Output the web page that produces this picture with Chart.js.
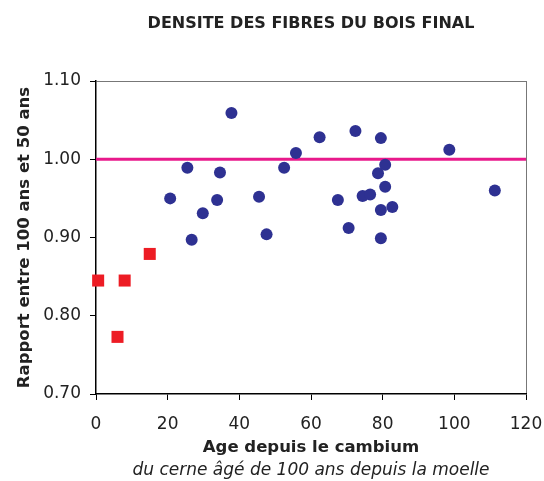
<!DOCTYPE html>
<html>
<head>
<meta charset="utf-8">
<script src="https://cdn.jsdelivr.net/npm/chart.js@4.4.0/dist/chart.umd.min.js"></script>
<style>
  html, body { margin: 0; padding: 0; background: #fff; }
  #wrap { width: 544px; height: 481px; }
</style>
</head>
<body>
<div id="wrap"><canvas id="chart"></canvas></div>
<script>
// age of the ring (years from cambium) and ratio 100 / 50 years
const blueAge = [20.7, 25.5, 26.7, 29.8, 33.8, 34.6, 37.8, 45.5, 47.6, 52.5, 55.8, 62.4, 67.5,
                 70.5, 72.4, 74.4, 76.5, 78.7, 79.5, 79.5, 79.5, 80.7, 80.7, 82.7, 98.6, 111.3];
const blueRatio = [0.950, 0.989, 0.897, 0.931, 0.948, 0.983, 1.059, 0.952, 0.904, 0.989, 1.008, 1.028, 0.948,
                   0.912, 1.036, 0.953, 0.955, 0.982, 1.027, 0.935, 0.899, 0.993, 0.965, 0.939, 1.012, 0.960];
const redAge = [0.6, 6.0, 8.0, 15.0];
const redRatio = [0.845, 0.773, 0.845, 0.879];
const refLineAge = [0, 120];
const refRatio = 1.00;
const xTicks = [0, 20, 40, 60, 80, 100, 120];
const yTicks = [0.70, 0.80, 0.90, 1.00, 1.10];

const font = "'DejaVu Sans', sans-serif";

function toPoints(xs, ys) {
    return xs.map((x, i) => ({ x: x, y: ys[i] }));
}

const ctx = document.getElementById("chart").getContext("2d");
const chart = new Chart(ctx, {
    type: "scatter",
    data: {
        datasets: [
            {
                data: toPoints(blueAge, blueRatio),
                backgroundColor: "#2e3192",
                borderColor: "#2e3192",
                pointRadius: 6,
                pointBorderWidth: 0,
                clip: false,
                order: 0
            },
            {
                data: toPoints(redAge, redRatio),
                pointStyle: "rect",
                backgroundColor: "#ed1c24",
                borderColor: "#ed1c24",
                pointRadius: 8.5,
                pointBorderWidth: 0,
                clip: false,
                order: 1
            },
            {
                type: "line",
                data: refLineAge.map(x => ({ x: x, y: refRatio })),
                borderColor: "#e8198b",
                borderWidth: 3,
                pointRadius: 0,
                fill: false,
                order: 2
            }
        ]
    },
    options: {
        responsive: true,
        maintainAspectRatio: false,
        animation: false,
        layout: { padding: { left: 0, right: 18, top: 0, bottom: 0 } },
        plugins: {
            legend: { display: false },
            tooltip: { enabled: false },
            title: {
                display: true,
                text: "DENSITE DES FIBRES DU BOIS FINAL",
                fullSize: false,
                color: "#222",
                font: { family: font, size: 16, weight: "bold" },
                padding: { top: 14, bottom: 47.8 }
            },
            subtitle: {
                display: true,
                position: "bottom",
                text: "du cerne âgé de 100 ans depuis la moelle",
                fullSize: false,
                color: "#222",
                font: { family: font, size: 17, style: "italic" },
                padding: { top: 0, bottom: 0 }
            }
        },
        scales: {
            x: {
                type: "linear",
                min: 0,
                max: 120,
                afterBuildTicks: (axis) => { axis.ticks = xTicks.map(v => ({ value: v })); },
                afterFit: (axis) => {
                    axis.height = 66.6;
                    axis.paddingLeft = 0;
                    axis.paddingRight = 0;
                },
                ticks: {
                    color: "#222",
                    padding: 14,
                    font: { family: font, size: 17 }
                },
                grid: {
                    color: (c) => (c.tick && c.tick.value === 120 ? "#777" : "rgba(0,0,0,0)"),
                    tickColor: "#000",
                    tickLength: 6,
                    lineWidth: 1
                },
                border: { color: "#000", width: 1.5 },
                title: {
                    display: true,
                    text: "Age depuis le cambium",
                    color: "#222",
                    font: { family: font, size: 16.5, weight: "bold" },
                    padding: { top: 0, bottom: 2.7 }
                }
            },
            y: {
                type: "linear",
                min: 0.70,
                max: 1.10,
                afterBuildTicks: (axis) => { axis.ticks = yTicks.map(v => ({ value: v })); },
                afterFit: (axis) => { axis.width = 96; },
                ticks: {
                    color: "#222",
                    padding: 9,
                    font: { family: font, size: 17 },
                    callback: (v) => Number(v).toFixed(2)
                },
                grid: {
                    color: (c) => (c.tick && Math.abs(c.tick.value - 1.10) < 1e-6 ? "#777" : "rgba(0,0,0,0)"),
                    tickColor: "#000",
                    tickLength: 6,
                    lineWidth: 1
                },
                border: { color: "#000", width: 1.5 },
                title: {
                    display: true,
                    text: "Rapport entre 100 ans et 50 ans",
                    color: "#222",
                    font: { family: font, size: 16.5, weight: "bold" },
                    padding: { top: 14.6, bottom: 0 }
                }
            }
        }
    }
});
</script>
</body>
</html>
